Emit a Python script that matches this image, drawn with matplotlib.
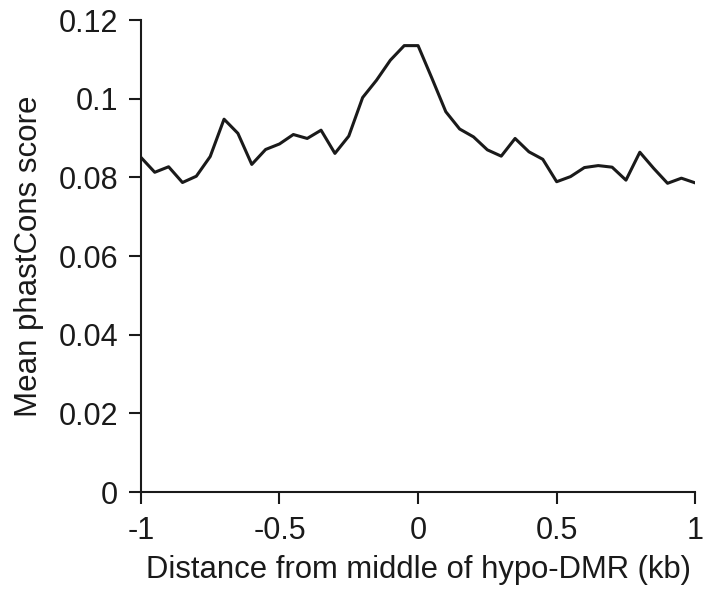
import matplotlib
matplotlib.use('Agg')
import matplotlib.pyplot as plt

# Distance from middle of hypo-DMR (kb), 50 bp steps
distance = [-1.0, -0.95, -0.9, -0.85, -0.8, -0.75, -0.7, -0.65, -0.6, -0.55,
            -0.5, -0.45, -0.4, -0.35, -0.3, -0.25, -0.2, -0.15, -0.1, -0.05,
            0.0, 0.05, 0.1, 0.15, 0.2, 0.25, 0.3, 0.35, 0.4, 0.45,
            0.5, 0.55, 0.6, 0.65, 0.7, 0.75, 0.8, 0.85, 0.9, 0.95, 1.0]

# Mean phastCons score
score = [0.0851, 0.0813, 0.0827, 0.0787, 0.0803, 0.0853, 0.0948, 0.0912, 0.0833, 0.0871,
         0.0885, 0.0909, 0.0899, 0.0920, 0.0861, 0.0905, 0.1003, 0.1047, 0.1098, 0.1135,
         0.1135, 0.1052, 0.0967, 0.0923, 0.0903, 0.0870, 0.0854, 0.0899, 0.0865, 0.0846,
         0.0789, 0.0802, 0.0825, 0.0830, 0.0826, 0.0793, 0.0864, 0.0823, 0.0785, 0.0798,
         0.0786]

x_ticks = [-1, -0.5, 0, 0.5, 1]
x_tick_labels = ['-1', '-0.5', '0', '0.5', '1']
y_ticks = [0, 0.02, 0.04, 0.06, 0.08, 0.1, 0.12]
y_tick_labels = ['0', '0.02', '0.04', '0.06', '0.08', '0.1', '0.12']

plt.rcParams['font.family'] = ['Liberation Sans', 'DejaVu Sans']

fig = plt.figure(figsize=(7.08, 5.9), dpi=100)
ax = fig.add_axes([0.199, 0.166, 0.783, 0.800])

ax.plot(distance, score, color='#1a1a1a', linewidth=2.2)

ax.set_xlim(-1, 1)
ax.set_ylim(0, 0.12)
ax.set_xticks(x_ticks)
ax.set_xticklabels(x_tick_labels)
ax.set_yticks(y_ticks)
ax.set_yticklabels(y_tick_labels)

# only left and bottom axis lines
ax.spines['top'].set_visible(False)
ax.spines['right'].set_visible(False)
for side in ['left', 'bottom']:
    ax.spines[side].set_linewidth(1.5)
    ax.spines[side].set_color('#1a1a1a')

ax.tick_params(axis='both', direction='out', length=8.5, width=1.5,
               color='#1a1a1a', labelsize=22, labelcolor='#1a1a1a')
ax.tick_params(axis='x', pad=9)
ax.tick_params(axis='y', pad=8)

ax.set_xlabel('Distance from middle of hypo-DMR (kb)', fontsize=22.3, color='#1a1a1a', labelpad=6)
ax.set_ylabel('Mean phastCons score', fontsize=22.5, color='#1a1a1a', labelpad=10)

fig.savefig('out.png', dpi=100)
